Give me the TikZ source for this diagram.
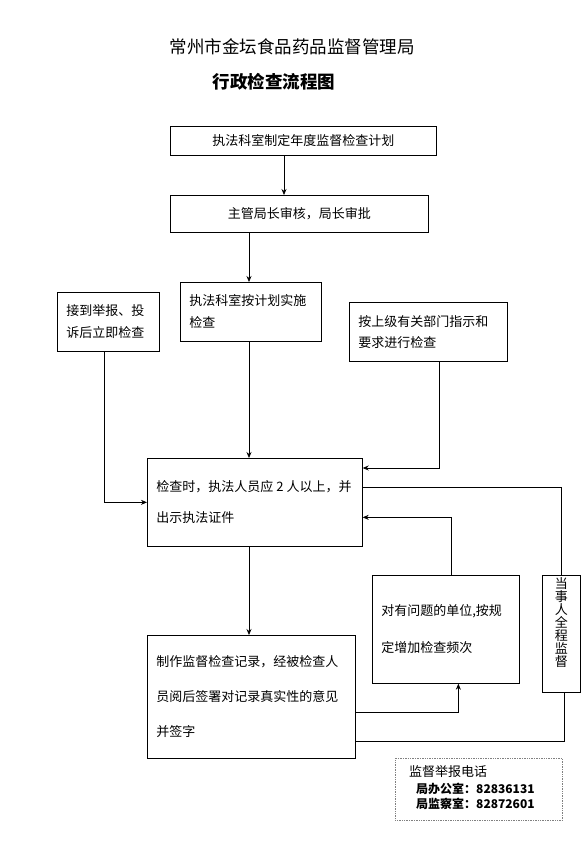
\documentclass[tikz,border=0pt]{standalone}
\usepackage{fontspec}
\setmainfont{Noto Sans CJK SC}
\usetikzlibrary{arrows.meta,positioning}

\begin{document}
\begin{tikzpicture}[x=1pt,y=-1pt,>={Stealth[length=6pt,width=5pt]},
  box/.style={draw,line width=0.7pt,anchor=north west,inner xsep=9pt,inner ysep=0pt},
  lefttext/.style={box,align=left,text width=#1},
  conn/.style={line width=0.7pt}]

\useasboundingbox (0,0) rectangle (582,850);

% ---------- title ----------
\node[font={\fontsize{17.5}{20}\selectfont}] (title) at (292,47) {常州市金坛食品药品监督管理局};
\node[font={\bfseries\fontsize{17.5}{20}\selectfont}] (subtitle) at (274,82) {行政检查流程图};

% ---------- boxes ----------
\node[box,minimum width=266,minimum height=29,font={\fontsize{13}{16}\selectfont}] (plan) at (170,126)
  {执法科室制定年度监督检查计划};
\node[box,minimum width=258,minimum height=37,font={\fontsize{13}{16}\selectfont}] (approve) at (170,195)
  {主管局长审核，局长审批};

\node[lefttext=84,minimum height=59,font={\fontsize{13}{22}\selectfont}] (report) at (57,292)
  {接到举报、投\\诉后立即检查};
\node[lefttext=123,minimum height=59,font={\fontsize{13}{22}\selectfont}] (execute) at (180,282)
  {执法科室按计划实施\\检查};
\node[lefttext=140,minimum height=59,font={\fontsize{13}{21}\selectfont}] (upper) at (349,302)
  {按上级有关部门指示和\\要求进行检查};

\node[lefttext=197,minimum height=88,font={\fontsize{13}{31}\selectfont}] (check) at (147,458)
  {检查时，执法人员应\kern3pt 2\kern3pt 人以上，并\\出示执法证件};

\node[lefttext=129,minimum height=108,font={\fontsize{13}{37}\selectfont}] (freq) at (372,575)
  {对有问题的单位,按规\\定增加检查频次};
\node[box,minimum width=38,minimum height=117] (party) at (542,575) {};
\node[below=2pt of party.north,align=center,inner sep=0pt,font={\fontsize{13}{13}\selectfont}] (partytxt)
  {当\\事\\人\\全\\程\\监\\督};

\node[lefttext=190,minimum height=123,font={\fontsize{13}{35}\selectfont}] (record) at (147,635)
  {制作监督检查记录，经被检查人\\员阅后签署对记录真实性的意见\\并签字};

% contact box
\node[box,densely dotted,draw=gray,minimum width=167,minimum height=62] (contact) at (395,758) {};
\node[anchor=west,inner sep=0pt,font={\fontsize{13}{15}\selectfont}] (phone) at (409,772) {监督举报电话};
\node[anchor=west,inner sep=0pt,font={\bfseries\fontsize{12}{15}\selectfont}] (office) at (416,789) {局办公室：82836131};
\node[anchor=west,inner sep=0pt,font={\bfseries\fontsize{12}{15}\selectfont}] (inspect) at (416,804) {局监察室：82872601};

% ---------- connectors ----------
\coordinate (a1) at (284,0);
\coordinate (spine) at (249,0);
\draw[conn,->] (plan.south -| a1) -- (approve.north -| a1);
\draw[conn,->] (approve.south -| spine) -- (execute.north -| spine);
\draw[conn,->] (execute.south -| spine) -- (check.north -| spine);
\draw[conn,->] ([xshift=-4pt]report.south) |- (check.west);
\draw[conn,->] ([xshift=11pt]upper.south) |- ([yshift=-10pt]check.north east);
\draw[conn] ([yshift=15pt]check.east) -| (party.north);
\draw[conn,->] ([xshift=5pt]freq.north) |- ([yshift=-15pt]check.east);
\draw[conn,->] (check.south -| spine) -- (record.north -| spine);
\draw[conn,->] ([yshift=-15.5pt]record.east) -| ([xshift=12.5pt]freq.south);
\draw[conn] ([yshift=-44.5pt]record.east) -| ([xshift=3pt]party.south);

\end{tikzpicture}
\end{document}
